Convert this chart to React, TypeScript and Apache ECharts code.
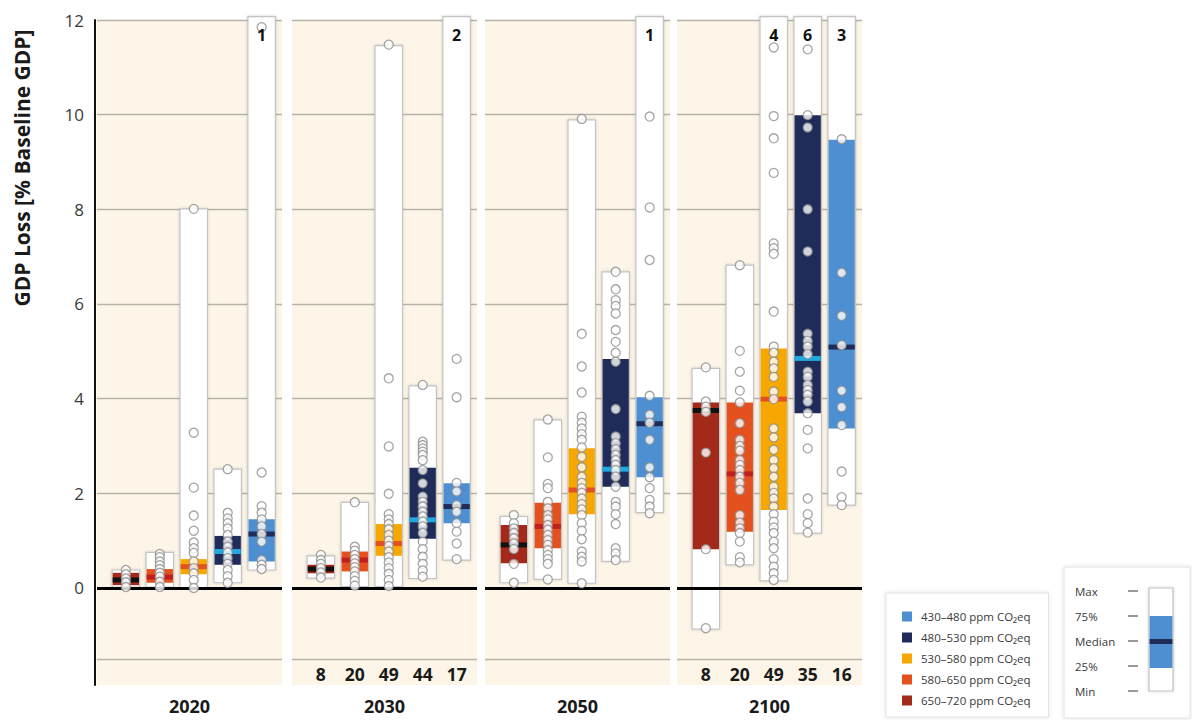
import React, { useEffect, useRef } from 'react';
import * as echarts from 'echarts';

// Scenario categories, left to right within each period panel
const scenarios = ['650–720', '580–650', '530–580', '480–530', '430–480'];
const scenarioColors = ['#a3291a', '#e4511f', '#f6a800', '#1f2b58', '#4d8fd0'];
const medianColors = ['#111111', '#c21f1c', '#e4511f', '#21a8df', '#1f2b58'];
const legendOrder = ['430–480', '480–530', '530–580', '580–650', '650–720'];

const years = ['2020', '2030', '2050', '2100'];
const yTickLabels = [0, 2, 4, 6, 8, 10, 12];
const gridLineValues = [-1.5, 2, 4, 6, 8, 10, 12];

// Box statistics per scenario: [min, 25%, median, 75%, max]; max null = beyond 12
const stats2020 = [
  [0.02, 0.06, 0.17, 0.32, 0.38],
  [0.02, 0.11, 0.23, 0.40, 0.75],
  [0.0, 0.29, 0.45, 0.61, 8.01],
  [0.11, 0.49, 0.77, 1.10, 2.51],
  [0.38, 0.56, 1.14, 1.45, null],
];
const stats2030 = [
  [0.21, 0.31, 0.40, 0.49, 0.68],
  [0.03, 0.35, 0.59, 0.77, 1.81],
  [0.03, 0.68, 0.94, 1.35, 11.46],
  [0.20, 1.04, 1.44, 2.54, 4.27],
  [0.59, 1.37, 1.72, 2.21, null],
];
const stats2050 = [
  [0.11, 0.52, 0.91, 1.33, 1.51],
  [0.18, 0.84, 1.30, 1.80, 3.55],
  [0.10, 1.56, 2.07, 2.95, 9.89],
  [0.56, 2.14, 2.51, 4.84, 6.68],
  [1.59, 2.34, 3.47, 4.03, null],
];
const stats2100 = [
  [-0.87, 0.82, 3.75, 3.92, 4.64],
  [0.49, 1.19, 2.41, 3.92, 6.82],
  [0.15, 1.65, 3.99, 5.06, null],
  [1.16, 3.69, 4.85, 9.99, null],
  [1.75, 3.37, 5.09, 9.47, null],
];

// Individual scenario results
const points2020 = [
  [0.38, 0.29, 0.2, 0.12, 0.02],
  [0.72, 0.65, 0.56, 0.48, 0.40, 0.32, 0.24, 0.13, 0.02],
  [8.01, 3.28, 2.12, 1.53, 1.21, 0.96, 0.84, 0.74, 0.56, 0.42, 0.31, 0.17, 0.0],
  [2.51, 1.59, 1.47, 1.37, 1.26, 1.12, 0.98, 0.87, 0.75, 0.63, 0.51, 0.38, 0.25, 0.11],
  [11.85, 2.44, 1.73, 1.59, 1.45, 1.30, 1.14, 0.98, 0.59, 0.49, 0.40],
];
const points2030 = [
  [0.70, 0.59, 0.51, 0.42, 0.33, 0.22],
  [1.81, 0.87, 0.79, 0.70, 0.61, 0.52, 0.44, 0.35, 0.25, 0.15, 0.05],
  [11.48, 4.43, 2.99, 1.99, 1.56, 1.45, 1.35, 1.24, 1.12, 1.00, 0.89, 0.77, 0.65, 0.54, 0.42, 0.30, 0.17, 0.04],
  [4.29, 3.09, 3.02, 2.95, 2.88, 2.81, 2.70, 2.49, 2.21, 1.93, 1.82, 1.72, 1.61, 1.51, 1.40, 1.30, 1.16, 0.98, 0.82, 0.66, 0.51, 0.37, 0.24],
  [4.84, 4.03, 2.22, 2.04, 1.75, 1.61, 1.37, 1.19, 0.94, 0.61],
];
const points2050 = [
  [1.54, 1.37, 1.26, 1.16, 1.05, 0.94, 0.82, 0.51, 0.11],
  [3.56, 2.76, 2.20, 2.11, 1.82, 1.68, 1.54, 1.45, 1.33, 1.23, 1.12, 1.01, 0.91, 0.80, 0.70, 0.61, 0.51, 0.18],
  [9.91, 5.37, 4.68, 4.13, 3.62, 3.49, 3.37, 3.25, 3.13, 2.97, 2.77, 2.55, 2.35, 2.22, 2.11, 2.01, 1.89, 1.77, 1.66, 1.54, 1.37, 1.21, 1.03, 0.77, 0.66, 0.56, 0.10],
  [6.68, 6.31, 6.08, 5.96, 5.80, 5.45, 5.20, 4.97, 4.78, 3.78, 3.20, 3.06, 2.93, 2.81, 2.70, 2.60, 2.49, 2.35, 2.14, 1.82, 1.72, 1.56, 1.35, 0.84, 0.73, 0.59],
  [9.96, 8.04, 6.93, 4.06, 3.66, 3.49, 3.13, 2.55, 2.34, 2.11, 1.86, 1.72, 1.58],
];
const points2100 = [
  [4.66, 3.94, 3.83, 3.72, 2.86, 0.82, -0.85],
  [6.82, 5.01, 4.57, 4.17, 3.92, 3.48, 3.13, 3.00, 2.90, 2.70, 2.60, 2.49, 2.35, 2.22, 2.07, 1.54, 1.38, 1.26, 1.16, 0.98, 0.65, 0.54],
  [11.42, 9.97, 9.50, 8.77, 7.28, 7.18, 7.06, 5.84, 5.10, 4.97, 4.78, 4.64, 4.46, 4.15, 3.99, 3.37, 3.18, 2.92, 2.70, 2.53, 2.35, 2.14, 2.01, 1.89, 1.72, 1.56, 1.40, 1.28, 1.16, 0.98, 0.84, 0.61, 0.45, 0.31, 0.17],
  [11.38, 9.99, 9.73, 8.00, 7.11, 5.37, 5.22, 5.10, 4.94, 4.57, 4.46, 4.29, 4.18, 4.08, 3.94, 3.69, 3.34, 2.95, 1.89, 1.56, 1.37, 1.17],
  [9.48, 6.66, 5.75, 5.13, 4.17, 3.82, 3.44, 2.46, 1.92, 1.75],
];

// Number of results lying above the 12 % limit
const offScale2020 = [0, 0, 0, 0, 1];
const offScale2030 = [0, 0, 0, 0, 2];
const offScale2050 = [0, 0, 0, 0, 1];
const offScale2100 = [0, 0, 4, 6, 3];

// Number of scenarios per category
const counts2030 = [8, 20, 49, 44, 17];
const counts2100 = [8, 20, 49, 35, 16];

const panels = [
  { year: years[0], stats: stats2020, points: points2020, offScale: offScale2020, counts: null },
  { year: years[1], stats: stats2030, points: points2030, offScale: offScale2030, counts: counts2030 },
  { year: years[2], stats: stats2050, points: points2050, offScale: offScale2050, counts: null },
  { year: years[3], stats: stats2100, points: points2100, offScale: offScale2100, counts: counts2100 },
];

// Layout
const FONT = "'Open Sans', 'Noto Sans', sans-serif";
const PANEL_LEFT = [97, 292, 485, 677];
const PANEL_W = 185;
const PLOT_TOP = 20;
const PLOT_H = 665;
const Y_MIN = -2.05;
const Y_MAX = 12;
const X_MIN = -0.85;
const X_MAX = 4.6;
const BOX_W = 0.81;
const BOX_TOP_CLIP = 12.07;

function boxRenderer(colorIdx: number) {
  return (_params: any, api: any) => {
    const x = api.value(0);
    const [cx, yMinPx] = api.coord([x, api.value(1)]);
    const yQ25 = api.coord([x, api.value(2)])[1];
    const yMed = api.coord([x, api.value(3)])[1];
    const yQ75 = api.coord([x, api.value(4)])[1];
    const yMaxPx = api.coord([x, api.value(5)])[1];
    const w = api.size([BOX_W, 0])[0];
    const left = cx - w / 2;
    return {
      type: 'group',
      children: [
        {
          type: 'rect',
          shape: { x: left, y: yMaxPx, width: w, height: yMinPx - yMaxPx },
          style: {
            fill: '#ffffff',
            stroke: '#c4c4c4',
            lineWidth: 1.2,
            shadowBlur: 3,
            shadowColor: 'rgba(0,0,0,0.18)',
          },
        },
        {
          type: 'rect',
          shape: { x: left + 0.6, y: yQ75, width: w - 1.2, height: yQ25 - yQ75 },
          style: { fill: scenarioColors[colorIdx] },
        },
        {
          type: 'rect',
          shape: { x: left + 0.6, y: yMed - 2.5, width: w - 1.2, height: 5 },
          style: { fill: medianColors[colorIdx] },
        },
      ],
    };
  };
}

function offScaleRenderer(_params: any, api: any) {
  const [cx, cy] = api.coord([api.value(0), Y_MAX]);
  return {
    type: 'text',
    x: cx,
    y: cy + 15,
    style: {
      text: String(api.value(1)),
      fontSize: 16,
      fontWeight: 'bold',
      fontFamily: FONT,
      fill: '#111111',
      align: 'center',
      verticalAlign: 'middle',
    },
  };
}

function buildOption() {
  const grid: any[] = [];
  const xAxis: any[] = [];
  const yAxis: any[] = [];
  const series: any[] = [];

  panels.forEach((p, pi) => {
    grid.push({
      left: PANEL_LEFT[pi],
      top: PLOT_TOP,
      width: PANEL_W,
      height: PLOT_H,
      show: true,
      backgroundColor: '#fdf6e8',
      borderWidth: 0,
      containLabel: false,
      outerBoundsMode: 'none',
    });

    const counts = p.counts;
    xAxis.push({
      gridIndex: pi,
      type: 'value',
      min: X_MIN,
      max: X_MAX,
      axisLine: { show: false },
      axisTick: { show: false },
      splitLine: { show: false },
      axisLabel: counts
        ? {
            show: true,
            inside: true,
            customValues: [0, 1, 2, 3, 4],
            formatter: (v: number) => String(counts[Math.round(v)]),
            fontSize: 17.5,
            fontWeight: 'bold',
            fontFamily: FONT,
            color: '#1a1a1a',
            margin: 2,
          }
        : { show: false },
      name: p.year,
      nameLocation: 'middle',
      nameGap: 12,
      nameTextStyle: { fontSize: 18, fontWeight: 'bold', fontFamily: FONT, color: '#1a1a1a' },
    });

    yAxis.push({
      gridIndex: pi,
      type: 'value',
      min: Y_MIN,
      max: Y_MAX,
      offset: pi === 0 ? 2 : 0,
      axisLine: { show: pi === 0, onZero: false, lineStyle: { color: '#111111', width: 2 } },
      axisTick: { show: false, customValues: gridLineValues },
      axisLabel:
        pi === 0
          ? { show: true, customValues: yTickLabels, fontSize: 17, fontFamily: FONT, color: '#3a3a3a', margin: 11 }
          : { show: false },
      splitLine: { show: true, lineStyle: { color: '#b8b3a9', width: 1.3 } },
    });

    p.stats.forEach((st, s) => {
      const top = st[4] === null ? BOX_TOP_CLIP : st[4];
      series.push({
        type: 'custom',
        name: scenarios[s],
        xAxisIndex: pi,
        yAxisIndex: pi,
        z: 2,
        itemStyle: { color: scenarioColors[s] },
        encode: { x: 0, y: [1, 2, 3, 4, 5] },
        data: [[s, st[0], st[1], st[2], st[3], top]],
        renderItem: boxRenderer(s),
        markLine:
          s === 0
            ? {
                silent: true,
                symbol: ['none', 'none'],
                label: { show: false },
                lineStyle: { color: '#000000', width: 3, type: 'solid' },
                data: [{ yAxis: 0 }],
              }
            : undefined,
      });
    });

    series.push({
      type: 'scatter',
      xAxisIndex: pi,
      yAxisIndex: pi,
      z: 6,
      symbol: 'circle',
      symbolSize: 9,
      itemStyle: { color: '#ffffff', borderColor: '#8f8f8f', borderWidth: 1.3 },
      data: p.points.flatMap((vals, s) => vals.map((v) => [s, v])),
    });

    series.push({
      type: 'custom',
      xAxisIndex: pi,
      yAxisIndex: pi,
      z: 8,
      encode: { x: 0, y: 1 },
      data: p.offScale.map((n, s) => [s, n]).filter((d) => d[1] > 0),
      renderItem: offScaleRenderer,
    });
  });

  const keyX = 1064;
  const keyTop = 567;
  const keyRows = [
    ['Max', 591],
    ['75%', 616],
    ['Median', 641],
    ['25%', 666],
    ['Min', 691],
  ];

  return {
    animation: false,
    backgroundColor: '#ffffff',
    textStyle: { fontFamily: FONT },
    grid,
    xAxis,
    yAxis,
    series,
    legend: {
      left: 886,
      top: 593,
      orient: 'vertical',
      selectedMode: false,
      data: legendOrder.map((name) => ({ name, icon: 'rect' })),
      formatter: (name: string) => `${name} ppm CO₂eq`,
      itemWidth: 10,
      itemHeight: 10,
      itemGap: 8,
      padding: [17, 18, 10, 16],
      backgroundColor: '#ffffff',
      borderColor: '#e2e2e2',
      borderWidth: 1,
      shadowBlur: 4,
      shadowColor: 'rgba(0,0,0,0.12)',
      textStyle: { fontSize: 11.5, color: '#3a3a3a', fontFamily: FONT, lineHeight: 13, padding: [0, 0, 0, 4] },
    },
    graphic: [
      {
        type: 'text',
        x: 22,
        y: 168,
        rotation: Math.PI / 2,
        style: {
          text: 'GDP Loss [% Baseline GDP]',
          fontSize: 21,
          fontWeight: 'bold',
          fontFamily: FONT,
          fill: '#1a1a1a',
          textAlign: 'center',
          textVerticalAlign: 'middle',
          align: 'center',
          verticalAlign: 'middle',
        },
      },
      {
        type: 'group',
        children: [
          {
            type: 'rect',
            shape: { x: keyX, y: keyTop, width: 126, height: 151 },
            style: {
              fill: '#ffffff',
              stroke: '#e2e2e2',
              lineWidth: 1,
              shadowBlur: 4,
              shadowColor: 'rgba(0,0,0,0.12)',
            },
          },
          ...keyRows.flatMap(([label, y]) => [
            {
              type: 'text',
              x: keyX + 11,
              y: y as number,
              style: {
                text: label as string,
                fontSize: 11.5,
                fontFamily: FONT,
                fill: '#3a3a3a',
                textAlign: 'left',
                textVerticalAlign: 'middle',
                align: 'left',
                verticalAlign: 'middle',
              },
            },
            {
              type: 'line',
              shape: { x1: keyX + 64, y1: y as number, x2: keyX + 74, y2: y as number },
              style: { stroke: '#555555', lineWidth: 1.2 },
            },
          ]),
          {
            type: 'rect',
            shape: { x: 1149, y: 588, width: 24, height: 103 },
            style: { fill: '#ffffff', stroke: '#c4c4c4', lineWidth: 1.2, shadowBlur: 3, shadowColor: 'rgba(0,0,0,0.18)' },
          },
          {
            type: 'rect',
            shape: { x: 1149.6, y: 616, width: 22.8, height: 52 },
            style: { fill: scenarioColors[4] },
          },
          {
            type: 'rect',
            shape: { x: 1149.6, y: 639, width: 22.8, height: 5 },
            style: { fill: medianColors[4] },
          },
        ],
      },
    ],
  };
}

export default function App() {
  const ref = useRef<HTMLDivElement>(null);
  useEffect(() => {
    if (!ref.current) return;
    const chart = echarts.init(ref.current, undefined, { renderer: 'svg' });
    chart.setOption(buildOption() as any);
    return () => chart.dispose();
  }, []);
  return (
    <div
      ref={ref}
      style={{ position: 'absolute', left: 0, top: 0, width: 1192, height: 720, background: '#ffffff' }}
    />
  );
}
